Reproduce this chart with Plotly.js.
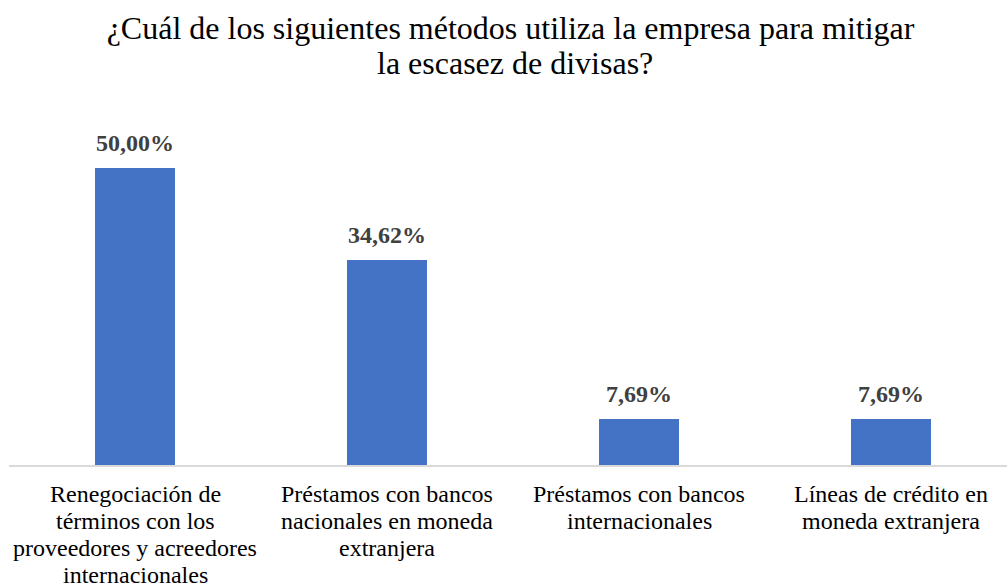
<!DOCTYPE html>
<html>
<head>
<meta charset="utf-8">
<script src="https://cdn.plot.ly/plotly-3.0.1.min.js"></script>
<style>html,body{margin:0;padding:0;background:#fff;}#chart{width:1007px;height:587px;}</style>
</head>
<body>
<div id="chart"></div>
<script>
const categoryLines = [
  ["Renegociación de", "términos con los", "proveedores y acreedores", "internacionales"],
  ["Préstamos con bancos", "nacionales en moneda", "extranjera"],
  ["Préstamos con bancos", "internacionales"],
  ["Líneas de crédito en", "moneda extranjera"]
];
const values = [50.00, 34.62, 7.69, 7.69];
const valueLabels = ["50,00%", "34,62%", "7,69%", "7,69%"];
const titleLines = ["¿Cuál de los siguientes métodos utiliza la empresa para mitigar", "la escasez de divisas?"];

const serif = "'Liberation Serif', 'Times New Roman', serif";
const xIdx = categoryLines.map((c, i) => i);

const trace = {
  type: "bar",
  x: xIdx,
  y: values,
  width: 0.315,
  marker: {color: "#4472C4"},
  hoverinfo: "none"
};

const annotations = [];
values.forEach((v, i) => annotations.push({
  x: i, y: v, xref: "x", yref: "y",
  text: valueLabels[i],
  showarrow: false,
  yanchor: "bottom",
  yshift: 10,
  font: {family: serif, size: 24, color: "#404040", weight: "bold"}
}));
// category labels, line by line (tight line spacing like the original)
categoryLines.forEach((lines, i) => lines.forEach((ln, k) => annotations.push({
  x: i, y: 0, xref: "x", yref: "paper",
  text: ln, showarrow: false,
  yanchor: "top", yshift: -14 - 27 * k,
  font: {family: serif, size: 24, color: "#000"}
})));
// second title line
annotations.push({
  x: 0.507, y: 1, xref: "paper", yref: "paper",
  text: titleLines[1], showarrow: false,
  yanchor: "bottom", yshift: 17,
  font: {family: serif, size: 32, color: "#000"}
});

const layout = {
  width: 1007, height: 587,
  margin: {l: 9, r: 0, t: 100, b: 122},
  paper_bgcolor: "#fff", plot_bgcolor: "#fff",
  title: {text: titleLines[0], x: 0.507, xanchor: "center",
          y: 1 - 39 / 587, yref: "container", yanchor: "bottom",
          font: {family: serif, size: 32, color: "#000"}},
  xaxis: {
    range: [-0.5, 3.46],
    tickmode: "array", tickvals: xIdx,
    showticklabels: false,
    showgrid: false, zeroline: false,
    showline: true, linecolor: "#D9D9D9", linewidth: 1.5,
    ticks: "",
    fixedrange: true
  },
  yaxis: {range: [0, 61.5], visible: false, showgrid: false, zeroline: false, fixedrange: true},
  annotations: annotations,
  showlegend: false,
  bargap: 0
};

Plotly.newPlot("chart", [trace], layout, {displayModeBar: false, staticPlot: true});
</script>
</body>
</html>
